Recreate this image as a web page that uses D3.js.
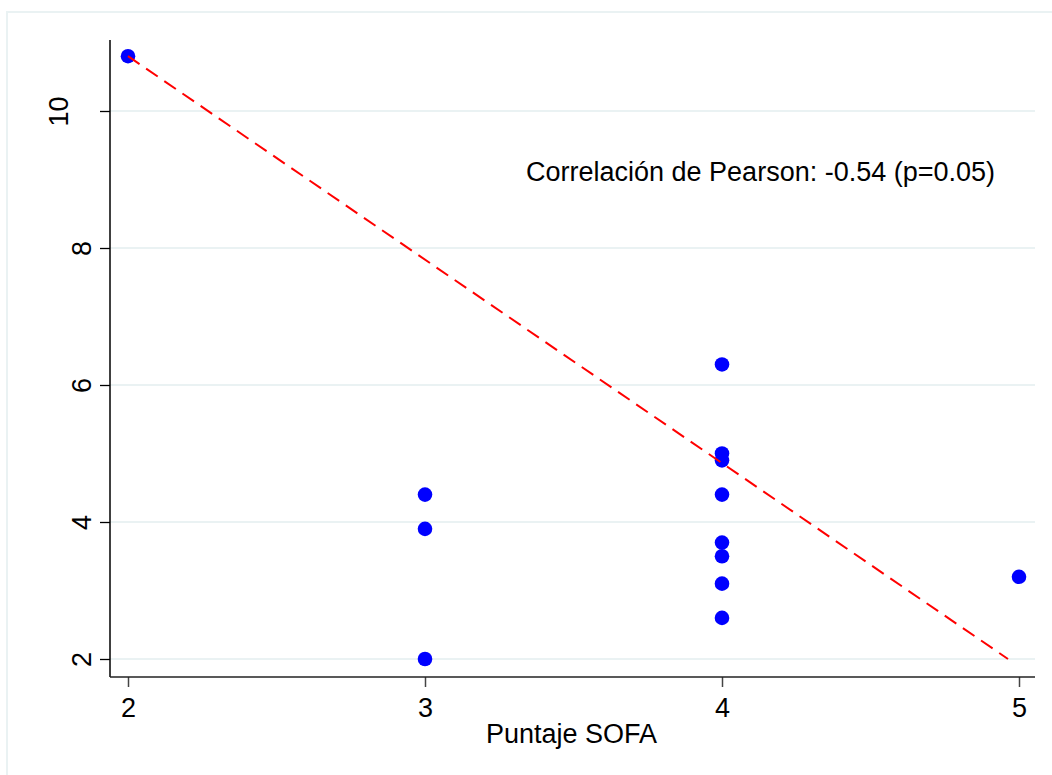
<!DOCTYPE html>
<html>
<head>
<meta charset="utf-8">
<script src="https://cdn.jsdelivr.net/npm/d3@7"></script>
<style>
  html, body { margin: 0; padding: 0; background: #fff; }
  svg { display: block; }
  text { font-family: "Liberation Sans", Arial, sans-serif; fill: #000; }
</style>
</head>
<body>
<svg id="chart" width="1052" height="775"></svg>
<script>
// ---- data ----
const sofa = [2, 3, 3, 3, 4, 4, 4, 4, 4, 4, 4, 4, 5];
const values = [10.8, 4.4, 3.9, 2.0, 6.3, 5.0, 4.9, 4.4, 3.7, 3.5, 3.1, 2.6, 3.2];
const fitX = [2, 4.963];
const fitY = [10.8, 2.0];
const xTicks = [2, 3, 4, 5];
const yTicks = [2, 4, 6, 8, 10];
const xTitle = "Puntaje SOFA";
const annotation = "Correlación de Pearson: -0.54 (p=0.05)";

// ---- layout ----
const svg = d3.select("#chart");
const W = 1052, H = 775;
const axisLeftX = 110, axisBottomY = 677, plotRight = 1035, plotTop = 40;
const x = d3.scaleLinear().domain([2, 5]).range([128, 1019]);
const y = d3.scaleLinear().domain([2, 10]).range([659, 111]);
const fs = 27;

// outer frame (top and left edges visible)
svg.append("path")
  .attr("d", `M7,${H} L7,12 L${W},12`)
  .attr("fill", "none").attr("stroke", "#eaf2f3").attr("stroke-width", 2);

// gridlines
svg.append("g").selectAll("line").data(yTicks).join("line")
  .attr("x1", axisLeftX).attr("x2", plotRight)
  .attr("y1", d => y(d)).attr("y2", d => y(d))
  .attr("stroke", "#eaf2f3").attr("stroke-width", 2);

// y axis
const yAxis = svg.append("g").attr("transform", `translate(${axisLeftX},0)`)
  .call(d3.axisLeft(y).tickValues(yTicks).tickSize(10).tickFormat(d3.format("d")));
yAxis.select(".domain").remove();
yAxis.selectAll(".tick line").attr("stroke", "#000").attr("stroke-width", 1.3);
yAxis.selectAll(".tick text")
  .attr("font-size", fs).attr("fill", "#000")
  .attr("x", null).attr("dy", null)
  .attr("text-anchor", "middle")
  .attr("transform", d => `translate(${-19 - (String(d).length - 1) * 23},0) rotate(-90)`);
svg.append("line")
  .attr("x1", axisLeftX).attr("x2", axisLeftX)
  .attr("y1", plotTop).attr("y2", axisBottomY)
  .attr("stroke", "#000").attr("stroke-width", 1.5);

// x axis
const xAxis = svg.append("g").attr("transform", `translate(0,${axisBottomY})`)
  .call(d3.axisBottom(x).tickValues(xTicks).tickSize(10).tickFormat(d3.format("d")));
xAxis.select(".domain").remove();
xAxis.selectAll(".tick line").attr("stroke", "#444").attr("stroke-width", 1.5);
xAxis.selectAll(".tick text")
  .attr("font-size", fs).attr("fill", "#000")
  .attr("y", 40).attr("dy", null);
svg.append("line")
  .attr("x1", axisLeftX).attr("x2", plotRight)
  .attr("y1", axisBottomY).attr("y2", axisBottomY)
  .attr("stroke", "#222").attr("stroke-width", 1.5);

// x title
svg.append("text")
  .attr("x", (x(2) + x(5)) / 2 - 2).attr("y", 743)
  .attr("text-anchor", "middle").attr("font-size", fs)
  .text(xTitle);

// points
const pts = sofa.map((s, i) => ({ s, v: values[i] }));
svg.append("g").selectAll("circle").data(pts).join("circle")
  .attr("cx", d => x(d.s)).attr("cy", d => y(d.v))
  .attr("r", 7.3).attr("fill", "#0000ff");

// fit line
const fit = fitX.map((fx, i) => [fx, fitY[i]]);
svg.append("path")
  .datum(fit)
  .attr("d", d3.line().x(d => x(d[0])).y(d => y(d[1])))
  .attr("fill", "none").attr("stroke", "#ff0000")
  .attr("stroke-width", 2).attr("stroke-dasharray", "14,8");

// annotation
svg.append("text")
  .attr("x", 526).attr("y", 181)
  .attr("font-size", fs)
  .text(annotation);
</script>
</body>
</html>
